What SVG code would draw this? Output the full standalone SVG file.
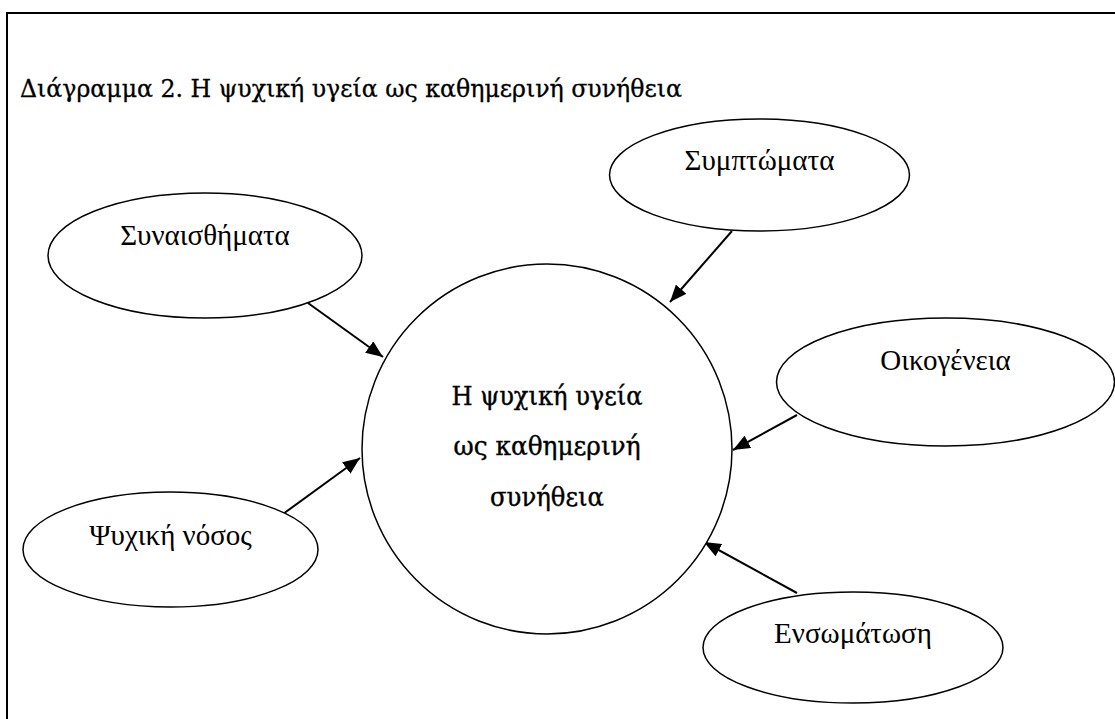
<svg xmlns="http://www.w3.org/2000/svg" width="1115" height="719" viewBox="0 0 1115 719">
  <style>
    .frame { fill: none; stroke: #000; stroke-width: 2; }
    .node { fill: #fff; stroke: #000; stroke-width: 1.5; }
    .lbl { font-family: "Liberation Serif", "Times New Roman", serif; font-size: 29px; fill: #000; text-anchor: middle; }
    .ctr { font-family: "DejaVu Serif", serif; font-size: 26px; fill: #000; stroke: #000; stroke-width: 0.4; text-anchor: middle; }
    .title { font-family: "DejaVu Serif", serif; font-size: 24px; fill: #000; stroke: #000; stroke-width: 0.3; }
    .edge { stroke: #000; stroke-width: 2; fill: none; marker-end: url(#arrow); }
  </style>
  <defs>
    <marker id="arrow" markerUnits="userSpaceOnUse" markerWidth="18" markerHeight="14" refX="17" refY="7" orient="auto">
      <path d="M0,0 L17,7 L0,14 z" fill="#000"/>
    </marker>
  </defs>
  <rect width="1115" height="719" fill="#fff"/>
  <rect class="frame" x="7" y="13" width="1130" height="730"/>
  <text class="title" x="20" y="97" textLength="662" lengthAdjust="spacingAndGlyphs">Διάγραμμα 2. Η ψυχική υγεία ως καθημερινή συνήθεια</text>

  <g id="connectors">
    <line class="edge" x1="308" y1="303" x2="383" y2="357"/>
    <line class="edge" x1="732" y1="231" x2="670" y2="302"/>
    <line class="edge" x1="797" y1="415" x2="733" y2="450"/>
    <line class="edge" x1="283" y1="514" x2="360" y2="458"/>
    <line class="edge" x1="797" y1="593" x2="704" y2="542"/>
  </g>

  <g id="center">
    <ellipse class="node" cx="547" cy="449" rx="185" ry="185"/>
    <text class="ctr" x="547" y="405" textLength="191" lengthAdjust="spacingAndGlyphs">Η ψυχική υγεία</text>
    <text class="ctr" x="547" y="455" textLength="187" lengthAdjust="spacingAndGlyphs">ως καθημερινή</text>
    <text class="ctr" x="547" y="506" textLength="114" lengthAdjust="spacingAndGlyphs">συνήθεια</text>
  </g>
  <g id="synaisthimata">
    <ellipse class="node" cx="205" cy="255.5" rx="157" ry="62.5"/>
    <text class="lbl" x="205" y="245">Συναισθήματα</text>
  </g>
  <g id="symptomata">
    <ellipse class="node" cx="759.5" cy="175" rx="150" ry="56"/>
    <text class="lbl" x="759.5" y="170">Συμπτώματα</text>
  </g>
  <g id="oikogeneia">
    <ellipse class="node" cx="945.5" cy="382" rx="169" ry="64"/>
    <text class="lbl" x="945.5" y="370">Οικογένεια</text>
  </g>
  <g id="psychiki-nosos">
    <ellipse class="node" cx="170.5" cy="549.5" rx="147.5" ry="57.5"/>
    <text class="lbl" x="170.5" y="545">Ψυχική νόσος</text>
  </g>
  <g id="ensomatosi">
    <ellipse class="node" cx="853" cy="647.5" rx="150" ry="55.5"/>
    <text class="lbl" x="853" y="643">Ενσωμάτωση</text>
  </g>
</svg>
